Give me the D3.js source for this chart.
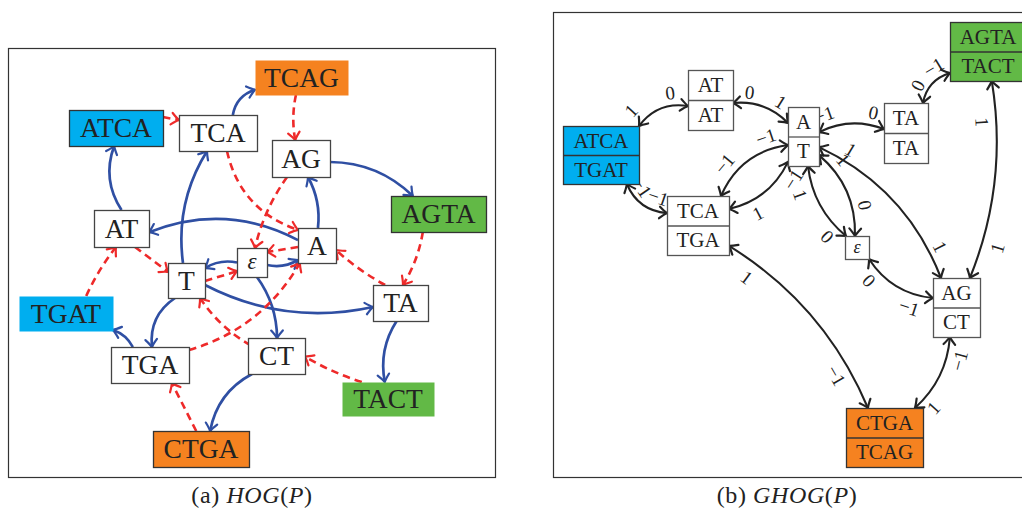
<!DOCTYPE html>
<html>
<head>
<meta charset="utf-8">
<script src="https://cdn.jsdelivr.net/npm/d3@7"></script>
<style>
  body { margin: 0; background: #fff; }
  svg { display: block; }
</style>
</head>
<body>
<svg id="fig" width="1022" height="513"></svg>
<script>
// ---------- data: (a) HOG(P) ----------
const hogNodes = ['TCAG', 'ATCA', 'TCA', 'AG', 'AGTA', 'AT', 'A', 'ε', 'T', 'TGAT', 'TA', 'TGA', 'CT', 'TACT', 'CTGA']
const hogKind = { ATCA: 'cyan', TGAT: 'cyanFlat', AGTA: 'green', TACT: 'greenFlat', TCAG: 'orangeFlat', CTGA: 'orange' }
const hogSolid = [
  ['AT', 'ATCA'], ['T', 'TCA'], ['TCA', 'TCAG'], ['A', 'AG'], ['AG', 'AGTA'], ['A', 'AT'], ['ε', 'T'],
  ['ε', 'A'], ['T', 'TA'], ['T', 'TGA'], ['TGA', 'TGAT'], ['ε', 'CT'], ['CT', 'CTGA'], ['TA', 'TACT']
]
const hogDashed = [
  ['ATCA', 'TCA'], ['TCAG', 'AG'], ['TCA', 'A'], ['AG', 'ε'], ['AGTA', 'TA'], ['TA', 'A'], ['A', 'ε'],
  ['T', 'ε'], ['AT', 'T'], ['TGAT', 'AT'], ['CT', 'T'], ['TGA', 'A'], ['TACT', 'CT'], ['CTGA', 'TGA']
]

// ---------- data: (b) GHOG(P) ----------
const ghogNodes = [['AT', 'AT'], ['ATCA', 'TGAT'], ['TCA', 'TGA'], ['A', 'T'], ['TA', 'TA'], ['AGTA', 'TACT'], ['ε'], ['AG', 'CT'], ['CTGA', 'TCAG']]
const ghogKind = { 'ATCA|TGAT': 'cyan', 'AGTA|TACT': 'green', 'CTGA|TCAG': 'orange' }
// [from, to, weight near from, weight near to]
const ghogEdges = [
  ['ATCA|TGAT', 'AT|AT', '1', '0'],
  ['AT|AT', 'A|T', '0', '1'],
  ['A|T', 'TA|TA', '−1', '0'],
  ['TA|TA', 'AGTA|TACT', '0', '−1'],
  ['AGTA|TACT', 'AG|CT', '1', '1'],
  ['A|T', 'TCA|TGA', '−1', '−1'],
  ['A|T', 'TCA|TGA', '−1', '1'],
  ['ATCA|TGAT', 'TCA|TGA', '−1', '−1'],
  ['A|T', 'ε', '1', '0'],
  ['A|T', 'ε', '1', '0'],
  ['A|T', 'AG|CT', '1', '1'],
  ['ε', 'AG|CT', '0', '−1'],
  ['TCA|TGA', 'CTGA|TCAG', '1', '−1'],
  ['AG|CT', 'CTGA|TCAG', '−1', '1']
]

// ---------- layout (panel units: x, y, w, h) ----------
const hogLayout = {
  TCAG: [247, 12, 93, 35], ATCA: [61, 62, 94, 36], TCA: [171, 67, 78, 36], AG: [264, 92, 58, 37],
  AGTA: [383, 148, 95, 36], AT: [86, 162, 55, 37], A: [290, 180, 38, 35], 'ε': [229, 200, 30, 29],
  T: [160, 215, 37, 35], TGAT: [11, 248, 94, 35], TA: [365, 237, 55, 36], TGA: [103, 299, 78, 36],
  CT: [240, 290, 57, 36], TACT: [334, 334, 92, 34], CTGA: [145, 383, 96, 36]
}
const ghogLayout = {
  'AT|AT': [135, 58, 45, 60], 'ATCA|TGAT': [10, 114, 76, 58], 'TCA|TGA': [114, 184, 62, 59],
  'A|T': [235, 95, 31, 59], 'TA|TA': [331, 91, 44, 60], 'AGTA|TACT': [397, 10, 76, 59],
  'ε': [292, 224, 24, 23], 'AG|CT': [380, 266, 47, 59], 'CTGA|TCAG': [293, 396, 77, 59]
}
// edge routes: [anchor at source, anchor at target, bend]
const hogSolidRoute = [
  [[0, -1], [-0.04, 1], 0.125], [[-0.19, -1], [-0.28, 1], 0.09], [[0.38, -1], [-1, 0.7], 0.15],
  [[0.05, -1], [0.24, 1], -0.08], [[1, 0.19], [-0.54, -1], 0.1], [[-1, -0.31], [1, 0.2], -0.115],
  [[-1, 0], [1, -0.71], -0.1], [[1, 0.17], [-1, 0.83], -0.1], [[1, 0.26], [-1, 0.22], -0.09],
  [[-0.62, 1], [0.05, -1], -0.15], [[-0.44, -1], [1, 0.94], -0.1], [[0.33, 1], [0.02, -1], 0.08],
  [[-0.86, 1], [0.19, -1], -0.12], [[-0.14, 1], [-0.07, -1], -0.1]
]
const hogDashedRoute = [
  [[1, -0.61], [-1, -0.72], 0], [[-0.12, 1], [-0.2, -1], -0.05], [[0.23, 1], [-1, -0.89], -0.14],
  [[-0.48, 1], [0.2, -1], -0.05], [[-0.33, 1], [0.09, -1], 0.05], [[-0.56, -1], [1, 0.26], 0.03],
  [[-1, 0.09], [1, -0.72], 0], [[1, 0.03], [-1, 0.6], 0], [[0.49, 1], [-1, -0.49], 0],
  [[0.43, -1], [-0.2, 1], 0.03], [[-0.91, -0.6], [0.73, 1], 0.06], [[1, -0.83], [-0.9, 1], -0.1],
  [[-0.57, -1], [1, 0.03], 0.03], [[-0.1, -1], [0.56, 1], 0]
]
// [anchor src, anchor tgt, bend, t1, d1, t2, d2]
const ghogRoute = [
  [[1, -1], [-1, 0.2], 0.15, 0.1, 16, 0.72, 13],
  [[1, 0.1], [-1, -0.46], 0.12, 0.25, 11, 0.72, 12],
  [[1, -0.15], [-1, -0.13], 0.11, 0.15, 14, 0.8, 13],
  [[0.77, -1], [-1, 0.73], 0.15, 0.3, 11, 0.75, 12],
  [[0.1, 1], [0.57, -1], 0.07, 0.2, -14, 0.82, 16],
  [[-1, 0.29], [0.74, -1], -0.14, 0.2, -13, 0.7, -14],
  [[-1, 0.86], [1, -0.56], 0.12, 0.15, 13, 0.7, 14],
  [[0.68, 1], [-1, -0.42], -0.15, 0.2, 12, 0.75, 14],
  [[0.29, 1], [-0.92, -1], -0.1, 0.3, -14, 0.85, -13],
  [[1, 0.63], [-0.17, -1], 0.12, 0.2, 14, 0.7, 13],
  [[1, 0.36], [-0.66, -1], 0.1, 0.15, 13, 0.85, 12],
  [[1, 1], [-1, -0.32], -0.12, 0.2, -13, 0.75, -14],
  [[1, 0.69], [-0.43, -1], 0.08, 0.15, -16, 0.8, -14],
  [[-0.28, 1], [0.79, -1], 0.1, 0.25, 13, 0.85, 13]
]

const FONT = '"Liberation Serif", "DejaVu Serif", serif'
const BLUE = '#2f4fa3', RED = '#ee2a2a', INK = '#222'
const fills = {
  cyan: ['#00aeef', '#333'], cyanFlat: ['#00aeef', null],
  green: ['#62b946', '#333'], greenFlat: ['#62b946', null],
  orange: ['#f58220', '#333'], orangeFlat: ['#f58220', null]
}

const svg = d3.select('#fig')
const defs = svg.append('defs')

function marker(id, color) {
  defs.append('marker').attr('id', id)
    .attr('viewBox', '-10 -8 12 16').attr('refX', 0).attr('refY', 0)
    .attr('markerWidth', 12).attr('markerHeight', 16)
    .attr('markerUnits', 'userSpaceOnUse')
    .attr('orient', 'auto-start-reverse')
    .append('path').attr('d', 'M-7.5,-5.8 Q-2.5,-1.4 0,0 Q-2.5,1.4 -7.5,5.8')
    .attr('fill', 'none').attr('stroke', color).attr('stroke-width', 2.2)
    .attr('stroke-linecap', 'round')
}
marker('arBlue', BLUE)
marker('arRed', RED)
marker('arBlack', INK)

// quadratic curve between two points, bend = peak offset / length (left of direction)
function curve(p, q, bend) {
  const dx = q[0] - p[0], dy = q[1] - p[1], L = Math.hypot(dx, dy)
  const nx = dy / L, ny = -dx / L
  const c = [(p[0] + q[0]) / 2 + 2 * bend * L * nx, (p[1] + q[1]) / 2 + 2 * bend * L * ny]
  const path = d3.path()
  path.moveTo(p[0], p[1])
  path.quadraticCurveTo(c[0], c[1], q[0], q[1])
  return { p, q, c, d: path.toString() }
}
function pointAt(cv, t, off) {
  const { p, q, c } = cv, u = 1 - t
  const x = u * u * p[0] + 2 * u * t * c[0] + t * t * q[0]
  const y = u * u * p[1] + 2 * u * t * c[1] + t * t * q[1]
  const tx = 2 * u * (c[0] - p[0]) + 2 * t * (q[0] - c[0])
  const ty = 2 * u * (c[1] - p[1]) + 2 * t * (q[1] - c[1])
  const l = Math.hypot(tx, ty)
  let ang = Math.atan2(ty, tx) * 180 / Math.PI
  if (ang > 90) ang -= 180
  if (ang <= -90) ang += 180
  return [x + off * ty / l, y - off * tx / l, ang]
}
function anchor(b, a) { return [b.cx + a[0] * b.w / 2, b.cy + a[1] * b.h / 2] }

function boxes(layout, sx, sy) {
  const out = {}
  for (const k in layout) {
    const [x, y, w, h] = layout[k]
    const x0 = sx(x), y0 = sy(y), x1 = sx(x + w), y1 = sy(y + h)
    out[k] = { x0, y0, w: x1 - x0, h: y1 - y0, cx: (x0 + x1) / 2, cy: (y0 + y1) / 2 }
  }
  return out
}

// ================= panel (a) =================
const ax = d3.scaleLinear().domain([0, 487]).range([8, 495])
const ay = d3.scaleLinear().domain([0, 429]).range([48, 477])
const hb = boxes(hogLayout, ax, ay)

svg.append('rect').attr('x', ax(0) + 0.5).attr('y', ay(0) + 0.5)
  .attr('width', ax(487) - ax(0)).attr('height', ay(429) - ay(0))
  .attr('fill', 'none').attr('stroke', '#333').attr('stroke-width', 1.2)

const ga = svg.append('g')
ga.append('g').selectAll('path').data(hogSolid).join('path')
  .attr('d', (e, i) => {
    const r = hogSolidRoute[i]
    return curve(anchor(hb[e[0]], r[0]), anchor(hb[e[1]], r[1]), r[2]).d
  })
  .attr('fill', 'none').attr('stroke', BLUE).attr('stroke-width', 2.7)
  .attr('marker-end', 'url(#arBlue)')

ga.append('g').selectAll('path').data(hogDashed).join('path')
  .attr('d', (e, i) => {
    const r = hogDashedRoute[i]
    return curve(anchor(hb[e[0]], r[0]), anchor(hb[e[1]], r[1]), r[2]).d
  })
  .attr('fill', 'none').attr('stroke', RED).attr('stroke-width', 2.6)
  .attr('stroke-dasharray', '7.5,5')
  .attr('marker-end', 'url(#arRed)')

const na = ga.append('g').selectAll('g').data(hogNodes).join('g')
na.append('rect')
  .attr('x', d => hb[d].x0 + 0.5).attr('y', d => hb[d].y0 + 0.5)
  .attr('width', d => hb[d].w).attr('height', d => hb[d].h)
  .attr('fill', d => hogKind[d] ? fills[hogKind[d]][0] : '#fff')
  .attr('stroke', d => hogKind[d] ? (fills[hogKind[d]][1] || 'none') : '#444')
  .attr('stroke-width', 1.3)
na.append('text')
  .attr('x', d => hb[d].cx).attr('y', d => hb[d].cy + (d === 'ε' ? 6.5 : 9))
  .attr('text-anchor', 'middle')
  .style('font-family', FONT)
  .style('font-size', d => d === 'ε' ? '23px' : '27.5px')
  .style('font-style', d => d === 'ε' ? 'italic' : 'normal')
  .attr('fill', INK)
  .text(d => d)

// ================= panel (b) =================
const bx = d3.scaleLinear().domain([0, 480]).range([553, 1033])
const by = d3.scaleLinear().domain([0, 465]).range([12, 477])
const gb = boxes(ghogLayout, bx, by)

svg.append('rect').attr('x', bx(0) + 0.5).attr('y', by(0) + 0.5)
  .attr('width', bx(480) - bx(0)).attr('height', by(465) - by(0))
  .attr('fill', 'none').attr('stroke', '#333').attr('stroke-width', 1.2)

const gB = svg.append('g')
const ghogCurves = ghogEdges.map((e, i) => {
  const r = ghogRoute[i]
  return curve(anchor(gb[e[0]], r[0]), anchor(gb[e[1]], r[1]), r[2])
})
gB.append('g').selectAll('path').data(ghogCurves).join('path')
  .attr('d', d => d.d)
  .attr('fill', 'none').attr('stroke', INK).attr('stroke-width', 2.1)
  .attr('marker-start', 'url(#arBlack)').attr('marker-end', 'url(#arBlack)')

const wlabels = []
ghogEdges.forEach((e, i) => {
  const r = ghogRoute[i]
  wlabels.push({ text: e[2], pos: pointAt(ghogCurves[i], r[3], r[4]) })
  wlabels.push({ text: e[3], pos: pointAt(ghogCurves[i], r[5], r[6]) })
})
gB.append('g').selectAll('text').data(wlabels).join('text')
  .attr('transform', d => `translate(${d.pos[0]},${d.pos[1]}) rotate(${d.pos[2]})`)
  .attr('text-anchor', 'middle').attr('dy', '0.35em')
  .style('font-family', FONT).style('font-size', '19px')
  .attr('fill', INK)
  .text(d => d.text)

gB.append('g').selectAll('g').data(ghogNodes).join('g')
  .each(function (d) {
    const key = d.join('|'), b = gb[key], g = d3.select(this)
    const kind = ghogKind[key]
    g.append('rect')
      .attr('x', b.x0 + 0.5).attr('y', b.y0 + 0.5).attr('width', b.w).attr('height', b.h)
      .attr('fill', kind ? fills[kind][0] : '#fff')
      .attr('stroke', kind ? '#333' : '#555').attr('stroke-width', 1.3)
    if (d.length === 2) {
      g.append('line')
        .attr('x1', b.x0 + 0.5).attr('x2', b.x0 + b.w + 0.5)
        .attr('y1', b.cy + 0.5).attr('y2', b.cy + 0.5)
        .attr('stroke', kind ? '#333' : '#555').attr('stroke-width', 1.3)
    }
    const rowH = b.h / d.length
    d.forEach((s, j) => {
      g.append('text')
        .attr('x', b.cx).attr('y', b.y0 + rowH * (j + 0.5) + (s === 'ε' ? 5.5 : 7))
        .attr('text-anchor', 'middle')
        .style('font-family', FONT)
        .style('font-size', s === 'ε' ? '18px' : '21px')
        .style('font-style', s === 'ε' ? 'italic' : 'normal')
        .attr('fill', INK)
        .text(s)
    })
  })

// ================= captions =================
const captions = [['(a) ', 'HOG', 252], ['(b) ', 'GHOG', 787]]
captions.forEach(([pre, name, cx]) => {
  const t = svg.append('text').attr('x', cx).attr('y', 503)
    .attr('text-anchor', 'middle')
    .style('font-family', FONT).style('font-size', '24px')
    .style('letter-spacing', '0.6px').attr('fill', INK)
  t.append('tspan').text(pre)
  t.append('tspan').style('font-style', 'italic').text(name)
  t.append('tspan').text('(')
  t.append('tspan').style('font-style', 'italic').text('P')
  t.append('tspan').text(')')
})
</script>
</body>
</html>
